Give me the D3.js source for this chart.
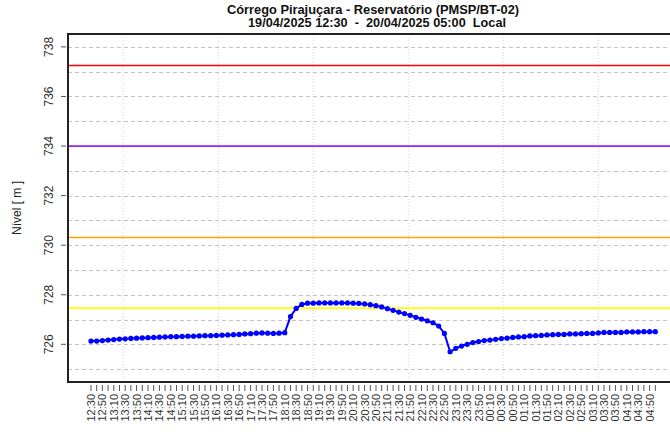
<!DOCTYPE html>
<html>
<head>
<meta charset="utf-8">
<script src="https://cdn.jsdelivr.net/npm/d3@7"></script>
<style>
  html, body { margin: 0; padding: 0; background: #fff; }
  svg { display: block; font-family: "Liberation Sans", Arial, Helvetica, sans-serif; }
</style>
</head>
<body>
<svg id="chart" width="670" height="437"></svg>
<script>
// ---- data ----
const titleLines = ["Córrego Pirajuçara - Reservatório (PMSP/BT-02)", "19/04/2025 12:30  -  20/04/2025 05:00  Local"];
const yTitle = "Nível [ m ]";
const startTime = "2025-04-19T12:30:00";
const stepMinutes = 10;
const levels = [
  726.13, 726.13, 726.15, 726.17, 726.19, 726.21, 726.22, 726.24, 726.25, 726.26,
  726.27, 726.28, 726.29, 726.30, 726.31, 726.31, 726.32, 726.33, 726.33, 726.34,
  726.35, 726.35, 726.36, 726.37, 726.38, 726.39, 726.40, 726.42, 726.43, 726.45,
  726.46, 726.45, 726.44, 726.45, 726.47, 727.12, 727.45, 727.61, 727.66, 727.66,
  727.67, 727.67, 727.67, 727.67, 727.67, 727.67, 727.66, 727.65, 727.63, 727.60,
  727.56, 727.51, 727.44, 727.37, 727.30, 727.24, 727.17, 727.09, 727.02, 726.95,
  726.87, 726.74, 726.44, 725.70, 725.84, 725.93, 726.00, 726.07, 726.11, 726.15,
  726.17, 726.20, 726.23, 726.25, 726.28, 726.30, 726.31, 726.34, 726.35, 726.36,
  726.38, 726.39, 726.40, 726.40, 726.42, 726.42, 726.43, 726.44, 726.44, 726.46,
  726.48, 726.48, 726.48, 726.48, 726.50, 726.50, 726.50, 726.51, 726.51, 726.51
];
const thresholdValues = [737.25, 734.0, 730.31, 727.46];
const thresholdColors = ["#ff0000", "#a020f0", "#ffa500", "#ffff00"];
const yTickValues = [726, 728, 730, 732, 734, 736, 738];
const yGridValues = [725, 726, 727, 728, 729, 730, 731, 732, 733, 734, 735, 736, 737, 738];
const yLimits = [725, 738];
const xGridTimes = ["2025-04-19T13:26:40", "2025-04-19T16:13:20", "2025-04-19T19:00:00",
                    "2025-04-19T21:46:40", "2025-04-20T00:33:20", "2025-04-20T03:20:00"];

// ---- layout ----
const svg = d3.select("#chart");
const plot = { left: 68, top: 34, bottom: 382 };
const parse = d3.timeParse("%Y-%m-%dT%H:%M:%S");
const t0 = parse(startTime);
const times = levels.map((_, i) => d3.timeMinute.offset(t0, i * stepMinutes));
const tFirst = times[0], tLast = times[times.length - 1];
const span = tLast - tFirst;
const ext = span * 0.04;
const xDomain = [new Date(+tFirst - ext), new Date(+tLast + ext)];
// plot box right edge lies outside the window (R extends 4%)
const firstPx = 91, lastPx = 655.3;
const pxPerMs = (lastPx - firstPx) / span;
const plotRight = lastPx + ext * pxPerMs;

const x = d3.scaleTime().domain(xDomain).range([plot.left + 0.4, plotRight]);
const yExt = (yLimits[1] - yLimits[0]) * 0.04;
const y = d3.scaleLinear().domain([yLimits[0] - yExt, yLimits[1] + yExt]).range([plot.bottom, plot.top]);

// clip
svg.append("defs").append("clipPath").attr("id", "clip")
  .append("rect").attr("x", plot.left).attr("y", plot.top)
  .attr("width", plotRight - plot.left).attr("height", plot.bottom - plot.top);

const g = svg.append("g").attr("clip-path", "url(#clip)");

// vertical grid (dotted light gray)
g.selectAll("line.vg").data(xGridTimes.map(parse)).join("line")
  .attr("x1", d => x(d)).attr("x2", d => x(d))
  .attr("y1", plot.top).attr("y2", plot.bottom)
  .attr("stroke", "#d3d3d3").attr("stroke-width", 1).attr("stroke-dasharray", "1,2");

// horizontal grid (dashed gray)
g.selectAll("line.hg").data(yGridValues).join("line")
  .attr("x1", plot.left).attr("x2", plotRight)
  .attr("y1", d => Math.round(y(d)) + 0.5).attr("y2", d => Math.round(y(d)) + 0.5)
  .attr("stroke", "#c4c4c4").attr("stroke-width", 1).attr("stroke-dasharray", "4,3");

// thresholds
g.selectAll("line.th").data(thresholdValues).join("line")
  .attr("x1", plot.left).attr("x2", plotRight)
  .attr("y1", d => y(d)).attr("y2", d => y(d))
  .attr("stroke", (d, i) => thresholdColors[i]).attr("stroke-width", 1.7);

// series line
const pts = levels.map((v, i) => ({ t: times[i], v }));
g.append("path").datum(pts)
  .attr("fill", "none").attr("stroke", "#0000ff").attr("stroke-width", 2)
  .attr("d", d3.line().x(d => x(d.t)).y(d => y(d.v)));
g.selectAll("circle").data(pts).join("circle")
  .attr("cx", d => x(d.t)).attr("cy", d => y(d.v)).attr("r", 2.6)
  .attr("fill", "#0000ff");

// box
svg.append("path")
  .attr("d", `M${plotRight + 5},${plot.top}H${plot.left}V${plot.bottom}H${plotRight + 5}`)
  .attr("fill", "none").attr("stroke", "#222").attr("stroke-width", 2);

// y axis ticks and labels
const ya = svg.append("g");
ya.selectAll("line").data(yTickValues).join("line")
  .attr("x1", plot.left - 7).attr("x2", plot.left - 2)
  .attr("y1", d => y(d)).attr("y2", d => y(d))
  .attr("stroke", "#555").attr("stroke-width", 1);
ya.selectAll("text").data(yTickValues).join("text")
  .attr("transform", d => `translate(${plot.left - 15},${y(d)}) rotate(-90)`)
  .attr("text-anchor", "middle").attr("font-size", 12).attr("fill", "#333")
  .text(d => d);

// y title
svg.append("text")
  .attr("transform", `translate(21,${(plot.top + plot.bottom) / 2}) rotate(-90)`)
  .attr("text-anchor", "middle").attr("font-size", 12).attr("fill", "#222")
  .text(yTitle);

// x axis ticks and labels
const xa = svg.append("g");
const fmt = d3.timeFormat("%H:%M");
xa.selectAll("line").data(times).join("line")
  .attr("x1", d => x(d)).attr("x2", d => x(d))
  .attr("y1", plot.bottom + 3).attr("y2", plot.bottom + 9)
  .attr("stroke", "#555").attr("stroke-width", 1);
xa.selectAll("text").data(times.filter((d, i) => i % 2 === 0)).join("text")
  .attr("transform", d => `translate(${x(d) + 4},${plot.bottom + 12}) rotate(-90)`)
  .attr("text-anchor", "end").attr("font-size", 11).attr("fill", "#333")
  .text(d => fmt(d));

// title (slightly widened, as in the reference)
svg.append("text").attr("transform", "translate(373,13.5) scale(1.07,1)").attr("text-anchor", "middle")
  .attr("font-size", 12).attr("font-weight", "bold").attr("fill", "#111").text(titleLines[0]);
svg.append("text").attr("transform", "translate(377,27) scale(1.06,1)").attr("text-anchor", "middle")
  .attr("font-size", 12).attr("font-weight", "bold").attr("fill", "#111")
  .attr("xml:space", "preserve").style("white-space", "pre").text(titleLines[1]);
</script>
</body>
</html>
